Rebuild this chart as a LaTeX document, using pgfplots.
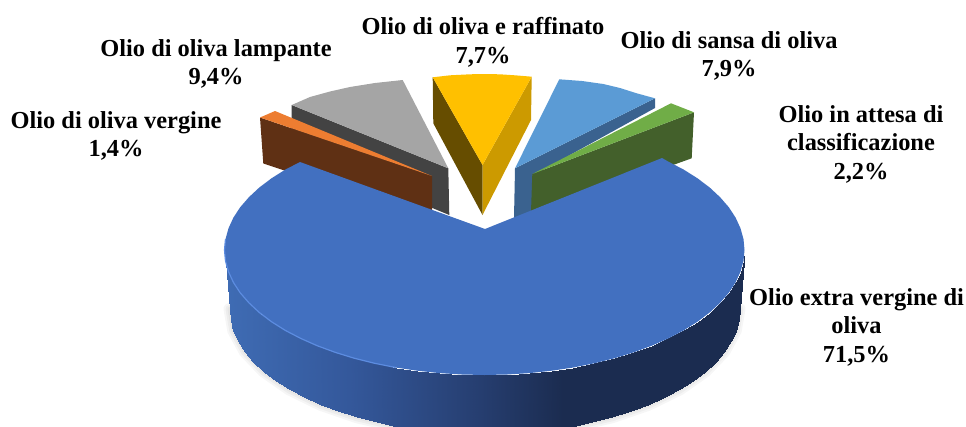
\documentclass[border=0pt]{standalone}
\usepackage{pgfplots}
\pgfplotsset{compat=1.18}
\usepackage{fontspec}
\setmainfont{Liberation Serif}
\definecolor{cblue}{HTML}{4270C0}
\definecolor{crim}{HTML}{5C8CE0}
\definecolor{lbT}{HTML}{5B9BD5}
\definecolor{lbS}{HTML}{3A628F}
\definecolor{grT}{HTML}{70AD47}
\definecolor{grS}{HTML}{43602B}
\definecolor{gyT}{HTML}{A5A5A5}
\definecolor{gyS}{HTML}{434343}
\definecolor{orT}{HTML}{ED7D31}
\definecolor{orS}{HTML}{5F3014}
\definecolor{yeT}{HTML}{FFC000}
\definecolor{yeL}{HTML}{664D00}
\definecolor{yeR}{HTML}{CC9A00}
\newcommand{\lab}[3]{\node[align=center,font=\fontsize{24.4}{28.5}\selectfont\bfseries,anchor=center] at (axis cs:#1,#2) {#3};}
\begin{document}
\begin{tikzpicture}
\path[use as bounding box] (0,0) rectangle (966pt,426pt);
\begin{axis}[scale only axis,width=966pt,height=426pt,xmin=0,xmax=966,ymin=0,ymax=426,y dir=reverse,axis lines=none,ticks=none,no markers,
 colormap={side}{rgb255(0cm)=(63,108,180); rgb255(24cm)=(52,88,155); rgb255(49cm)=(38,62,112); rgb255(65cm)=(27,44,80); rgb255(100cm)=(27,44,80)},
 point meta min=224.5,point meta max=744.5]
% soft shadow below the pie
\addplot[draw=black,opacity=0.035,line width=12pt,line cap=round,forget plot] coordinates {(229.5,309)(233.3,330.7)(244.8,351.8)(263.7,371.5)(289.2,389.4)(320.6,404.8)(357,417.3)(397.3,426.5)(440.2,432.1)(484.5,434)(528.8,432.1)(571.7,426.5)(612,417.3)(648.4,404.8)(679.8,389.4)(705.3,371.5)(724.2,351.8)(735.7,330.7)(739.5,309)};
\addplot[draw=black,opacity=0.035,line width=8pt,line cap=round,forget plot] coordinates {(229.5,309)(233.3,330.7)(244.8,351.8)(263.7,371.5)(289.2,389.4)(320.6,404.8)(357,417.3)(397.3,426.5)(440.2,432.1)(484.5,434)(528.8,432.1)(571.7,426.5)(612,417.3)(648.4,404.8)(679.8,389.4)(705.3,371.5)(724.2,351.8)(735.7,330.7)(739.5,309)};
\addplot[draw=black,opacity=0.035,line width=4pt,line cap=round,forget plot] coordinates {(229.5,309)(233.3,330.7)(244.8,351.8)(263.7,371.5)(289.2,389.4)(320.6,404.8)(357,417.3)(397.3,426.5)(440.2,432.1)(484.5,434)(528.8,432.1)(571.7,426.5)(612,417.3)(648.4,404.8)(679.8,389.4)(705.3,371.5)(724.2,351.8)(735.7,330.7)(739.5,309)};
% grey slice
\addplot[fill=gyS,draw=none] coordinates {(291.7,105)(448.3,168.3)(449.3,215)(291.7,150)} --cycle;
\addplot[fill=gyT,draw=none] coordinates {(291.7,105)(310,97)(330,91.5)(350,87)(375,83)(402.7,80)(448.3,168.3)} --cycle;
% orange slice
\addplot[fill=orS,draw=none] coordinates {(260,117.5)(432,176)(432,212)(283,170)(263.3,163.5)} --cycle;
\addplot[fill=orT,draw=none] coordinates {(260,117.5)(275,111)(432,176)} --cycle;
% yellow slice
\addplot[fill=yeL,draw=none] coordinates {(432.7,77.3)(482.5,165)(482.5,215)(433.3,123.3)} --cycle;
\addplot[fill=yeR,draw=none] coordinates {(531.7,76.7)(482.5,165)(482.5,215)(531,120)} --cycle;
\addplot[fill=yeT,draw=none] coordinates {(432.7,77.3)(450,75.3)(470,74.3)(482,74)(500,74.3)(515,75.3)(531.7,76.7)(482.5,165)} --cycle;
% light blue slice
\addplot[fill=lbS,draw=none] coordinates {(655,98.3)(515,168.3)(514,218)(532,212)(532,176)(655,108)} --cycle;
\addplot[fill=lbT,draw=none] coordinates {(559.3,79.3)(582,81)(603.3,84)(620,88)(636.7,93.3)(655,98.3)(515,168.3)} --cycle;
% green slice
\addplot[fill=grS,draw=none] coordinates {(532.3,174)(694,112.3)(691.7,158.3)(673,165)(531,212)} --cycle;
\addplot[fill=grT,draw=none] coordinates {(532.3,174)(671,103.3)(694,112.3)} --cycle;
% main slice: side wall
\addplot[patch,patch type=rectangle,shader=interp,point meta=x] coordinates {
(744.5,250)(743.5,260.9)(738.5,319.9)(739.5,309)
(743.5,260.9)(740.5,271.7)(735.7,330.7)(738.5,319.9)
(740.5,271.7)(735.6,282.4)(730.8,341.4)(735.7,330.7)
(735.6,282.4)(728.8,292.8)(724.2,351.8)(730.8,341.4)
(728.8,292.8)(720.1,302.8)(715.6,361.8)(724.2,351.8)
(720.1,302.8)(709.7,312.5)(705.3,371.5)(715.6,361.8)
(709.7,312.5)(697.5,321.7)(693.4,380.7)(705.3,371.5)
(697.5,321.7)(683.7,330.4)(679.8,389.4)(693.4,380.7)
(683.7,330.4)(668.3,338.4)(664.8,397.4)(679.8,389.4)
(668.3,338.4)(651.6,345.8)(648.4,404.8)(664.8,397.4)
(651.6,345.8)(633.6,352.4)(630.8,411.4)(648.4,404.8)
(633.6,352.4)(614.5,358.3)(612,417.3)(630.8,411.4)
(614.5,358.3)(594.4,363.3)(592.3,422.3)(612,417.3)
(594.4,363.3)(573.4,367.5)(571.7,426.5)(592.3,422.3)
(573.4,367.5)(551.8,370.7)(550.5,429.7)(571.7,426.5)
(551.8,370.7)(529.7,373.1)(528.8,432.1)(550.5,429.7)
(529.7,373.1)(507.2,374.5)(506.7,433.5)(528.8,432.1)
(507.2,374.5)(484.5,375)(484.5,434)(506.7,433.5)
(484.5,375)(461.8,374.5)(462.3,433.5)(484.5,434)
(461.8,374.5)(439.3,373.1)(440.2,432.1)(462.3,433.5)
(439.3,373.1)(417.2,370.7)(418.5,429.7)(440.2,432.1)
(417.2,370.7)(395.6,367.5)(397.3,426.5)(418.5,429.7)
(395.6,367.5)(374.6,363.3)(376.7,422.3)(397.3,426.5)
(374.6,363.3)(354.5,358.3)(357,417.3)(376.7,422.3)
(354.5,358.3)(335.4,352.4)(338.2,411.4)(357,417.3)
(335.4,352.4)(317.4,345.8)(320.6,404.8)(338.2,411.4)
(317.4,345.8)(300.7,338.4)(304.2,397.4)(320.6,404.8)
(300.7,338.4)(285.3,330.4)(289.2,389.4)(304.2,397.4)
(285.3,330.4)(271.5,321.7)(275.6,380.7)(289.2,389.4)
(271.5,321.7)(259.3,312.5)(263.7,371.5)(275.6,380.7)
(259.3,312.5)(248.9,302.8)(253.4,361.8)(263.7,371.5)
(248.9,302.8)(240.2,292.8)(244.8,351.8)(253.4,361.8)
(240.2,292.8)(233.4,282.4)(238.2,341.4)(244.8,351.8)
(233.4,282.4)(228.5,271.7)(233.3,330.7)(238.2,341.4)
(228.5,271.7)(225.5,260.9)(230.5,319.9)(233.3,330.7)
(225.5,260.9)(224.5,250)(229.5,309)(230.5,319.9)
};
% main slice: top face
\addplot[fill=cblue,draw=none] coordinates {(662,158)(668.3,161.6)(683.7,169.6)(697.5,178.3)(709.7,187.5)(720.1,197.2)(728.8,207.2)(735.6,217.6)(740.5,228.3)(743.5,239.1)(744.5,250)(743.5,260.9)(740.5,271.7)(735.6,282.4)(728.8,292.8)(720.1,302.8)(709.7,312.5)(697.5,321.7)(683.7,330.4)(668.3,338.4)(651.6,345.8)(633.6,352.4)(614.5,358.3)(594.4,363.3)(573.4,367.5)(551.8,370.7)(529.7,373.1)(507.2,374.5)(484.5,375)(461.8,374.5)(439.3,373.1)(417.2,370.7)(395.6,367.5)(374.6,363.3)(354.5,358.3)(335.4,352.4)(317.4,345.8)(300.7,338.4)(285.3,330.4)(271.5,321.7)(259.3,312.5)(248.9,302.8)(240.2,292.8)(233.4,282.4)(228.5,271.7)(225.5,260.9)(224.5,250)(225.5,239.1)(228.5,228.3)(233.4,217.6)(240.2,207.2)(248.9,197.2)(259.3,187.5)(271.5,178.3)(285.3,169.6)(300,162)(485,229)} --cycle;
% lit rim
\addplot[draw=crim,line width=1.2pt,line join=round] coordinates {(225.5,239.1)(224.5,250)(225.5,260.9)(228.5,271.7)(233.4,282.4)(240.2,292.8)(248.9,302.8)(259.3,312.5)(271.5,321.7)(285.3,330.4)(300.7,338.4)(317.4,345.8)(335.4,352.4)(354.5,358.3)(374.6,363.3)(395.6,367.5)};
\lab{483}{42.5}{Olio di oliva e raffinato\\7,7\%}
\lab{729}{56}{Olio di sansa di oliva\\7,9\%}
\lab{861}{144}{Olio in attesa di\\classificazione\\2,2\%}
\lab{856.5}{327}{Olio extra vergine di\\oliva\\71,5\%}
\lab{216}{64}{Olio di oliva lampante\\9,4\%}
\lab{116}{136}{Olio di oliva vergine\\1,4\%}
\end{axis}
\end{tikzpicture}
\end{document}
